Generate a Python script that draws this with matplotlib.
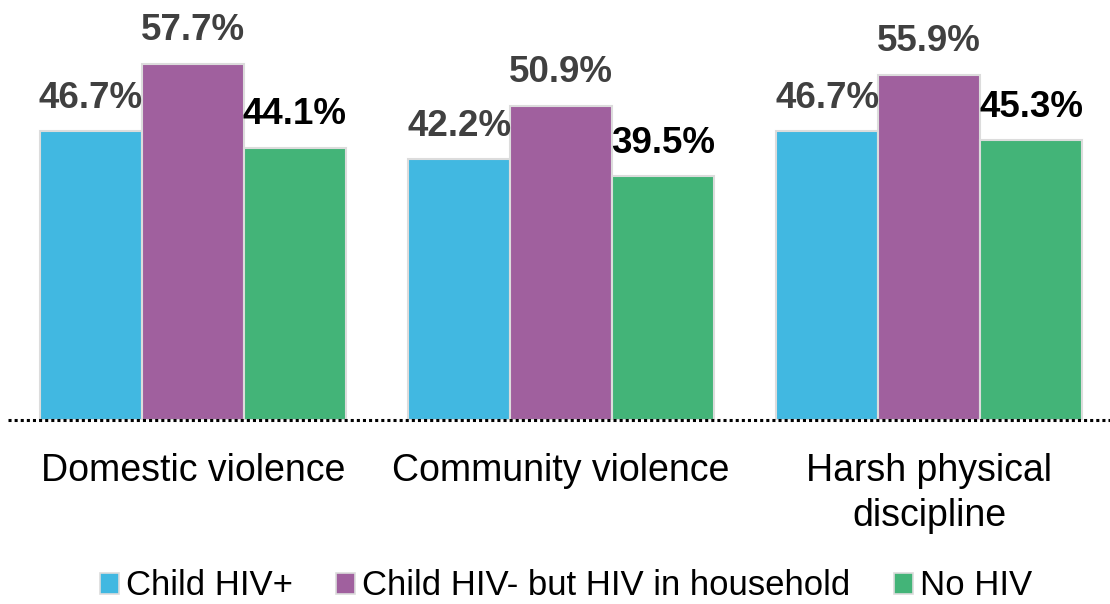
import numpy as np
import matplotlib.pyplot as plt
from matplotlib.patches import Patch

plt.rcParams['font.family'] = ['Liberation Sans', 'DejaVu Sans']

# data
categories = ['Domestic violence', 'Community violence', 'Harsh physical\ndiscipline']
series_names = ['Child HIV+', 'Child HIV- but HIV in household', 'No HIV']
child_pos = [46.7, 42.2, 46.7]
hiv_household = [57.7, 50.9, 55.9]
no_hiv = [44.1, 39.5, 45.3]

colors = ['#41B8E1', '#A0609E', '#43B478']
label_colors = ['#404040', '#404040', '#000000']

fig = plt.figure(figsize=(11.1, 6.04), dpi=100)
ax = fig.add_axes([0.007, 0.305, 0.995, 0.695])

x = np.arange(len(categories))
width = 0.277
series = [child_pos, hiv_household, no_hiv]

for i, vals in enumerate(series):
    pos = x + (i - 1) * width
    bars = ax.bar(pos, vals, width, color=colors[i], edgecolor='#DCDCDC',
                  linewidth=1.5, zorder=2)
    for b, v in zip(bars, vals):
        ax.annotate('{:.1f}%'.format(v), (b.get_x() + b.get_width() / 2, v),
                    xytext=(0, 11), textcoords='offset points',
                    ha='center', va='bottom', fontsize=26.5,
                    fontweight='bold', color=label_colors[i])

ax.axhline(0, color='black', linestyle=(0, (1, 1)), linewidth=2.2,
           zorder=3, clip_on=False)

ax.set_xlim(-0.503, 2.497)
ax.set_ylim(0, 68)
ax.set_xticks(x)
ax.set_xticklabels(categories, fontsize=27, linespacing=1.33, va='top')
ax.tick_params(axis='x', length=0, pad=24)
ax.set_yticks([])
for s in ax.spines.values():
    s.set_visible(False)

handles = [Patch(facecolor=c, edgecolor='#DCDCDC', linewidth=1.2) for c in colors]
fig.legend(handles, series_names, loc='center', bbox_to_anchor=(0.51, 0.03),
           ncol=3, frameon=False, fontsize=25, handlelength=0.55,
           handleheight=0.55, handletextpad=0.2, columnspacing=1.25,
           borderpad=0)

plt.savefig('out.png', dpi=100)
